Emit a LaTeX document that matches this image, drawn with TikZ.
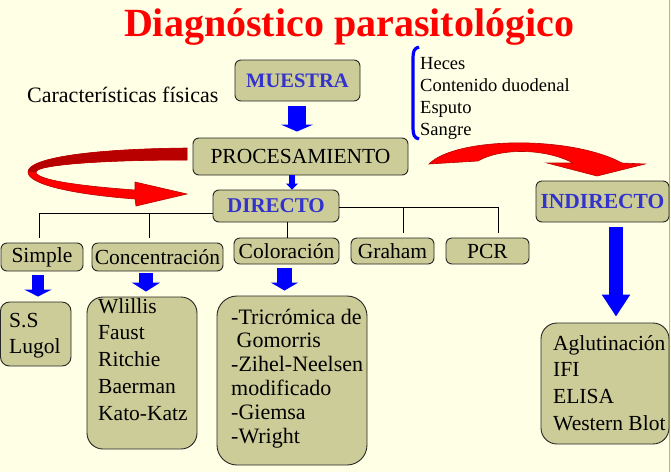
\documentclass[tikz,border=0pt]{standalone}
\usepackage{fontspec}
\setmainfont{Liberation Serif}
\usetikzlibrary{arrows.meta,calc}
\definecolor{bg}{RGB}{255,255,229}
\definecolor{boxc}{RGB}{204,204,153}
\definecolor{tblue}{RGB}{51,51,204}
\definecolor{dred}{RGB}{185,0,0}
\begin{document}
\begin{tikzpicture}[x=1pt,y=-1pt,
  box/.style={draw=black!85, line width=0.9pt, fill=boxc, rounded corners=6pt, inner sep=0pt, font=\fontsize{21.5}{24}\selectfont},
  hd/.style={font=\fontsize{21}{24}\selectfont\bfseries, text=tblue},
  lst/.style={font=\fontsize{21.5}{24}\selectfont, inner sep=0pt, anchor=base west},
  tree/.style={line width=0.9pt, draw=black},
  barrow/.style n args={3}{draw=blue, line width=#1, -{Triangle[length=#2,width=#3]}},
  redarrow/.style={fill=red, draw=dred, line width=0.6pt}]
\useasboundingbox (0,0) rectangle (671,472);
\fill[bg] (0,0) rectangle (671,472);
\draw[gray!60, line width=1.2pt] (669.5,0) -- (669.5,472);

% title and side texts
\node[font=\fontsize{40}{44}\selectfont\bfseries, text=red, anchor=base, inner sep=0pt] (title) at (349,36) {Diagnóstico parasitológico};
\node[lst, font=\fontsize{22}{24}\selectfont] (caract) at (27,102) {Características físicas};

% main boxes
\node[box, hd, font=\fontsize{20.5}{24}\selectfont\bfseries, minimum width=125pt, minimum height=41pt] (muestra) at (297.5,80.5) {MUESTRA};
\node[box, font=\fontsize{21.5}{24}\selectfont, minimum width=215pt, minimum height=37pt] (proc) at (300.5,156.5) {PROCESAMIENTO};
\node[box, hd, minimum width=126pt, minimum height=32pt] (dir) at (276,206) {DIRECTO};
\node[box, hd, font=\fontsize{21.5}{24}\selectfont\bfseries, minimum width=133pt, minimum height=41pt] (indir) at (602.5,201.5) {INDIRECTO};

% second row
\node[box, minimum width=82pt, minimum height=28pt] (simple) at (42,257) {Simple};
\node[box, minimum width=131pt, minimum height=28pt] (conc) at (157.5,257) {Concentración};
\node[box, minimum width=105pt, minimum height=26pt] (col) at (286.5,251) {Coloración};
\node[box, minimum width=83pt, minimum height=26pt] (graham) at (392.5,251) {Graham};
\node[box, minimum width=83pt, minimum height=26pt] (pcr) at (487.5,251) {PCR};

% list boxes
\node[box, rounded corners=9pt, minimum width=70.5pt, minimum height=64pt] (ssbox) at (35.75,334) {};
\node[box, rounded corners=16pt, minimum width=110pt, minimum height=152pt] (clist) at (142,373) {};
\node[box, rounded corners=20pt, minimum width=150pt, minimum height=169pt] (collist) at (292,380.5) {};
\node[box, rounded corners=16pt, minimum width=128pt, minimum height=121pt] (ilist) at (605,383.5) {};

\foreach \t [count=\i] in {S.S, Lugol}
  \node[lst] (sst\i) at (9,{327+26*(\i-1)}) {\t};
\foreach \t [count=\i] in {Wlillis, Faust, Ritchie, Baerman, Kato-Katz}
  \node[lst] (ct\i) at (98,{313+26.75*(\i-1)}) {\t};
\foreach \t [count=\i] in {-Tricrómica de, \ Gomorris, -Zihel-Neelsen, modificado, -Giemsa, -Wright}
  \node[lst, font=\fontsize{22}{24}\selectfont] (colt\i) at (231,{324+23.8*(\i-1)}) {\t};
\foreach \t [count=\i] in {Aglutinación, IFI, ELISA, Western Blot}
  \node[lst] (it\i) at (553,{350+26.7*(\i-1)}) {\t};
\foreach \t [count=\i] in {Heces, Contenido duodenal, Esputo, Sangre}
  \node[lst, font=\fontsize{18.5}{22}\selectfont] (mt\i) at (420,{69+22*(\i-1)}) {\t};

% blue bracket
\draw[blue, line width=3.2pt] (419,47) .. controls (414,48) and (413,52) .. (413,58) -- (413,128) .. controls (413,134) and (414,138) .. (419,139);

% tree connectors
\coordinate (jl) at (213,213);
\coordinate (s1) at (39,238);
\coordinate (s2) at (149,238);
\coordinate (jr) at (339,207);
\coordinate (s4) at (403,233);
\coordinate (s5) at (498,233);
\coordinate (s3) at (287,238);
\draw[tree] (jl) -| (s1);
\draw[tree] (jl -| s2) -- (s2);
\draw[tree] (jr) -| (s5);
\draw[tree] (jr -| s4) -- (s4);
\draw[tree] (s3 |- dir.south) -- (s3);

% blue block arrows
\coordinate (a1) at (297,0);
\coordinate (a2) at (292,0);
\coordinate (a3) at (38,0);
\coordinate (a4) at (146,0);
\coordinate (a5) at (284.5,0);
\coordinate (a6) at (616,0);
\draw[barrow={18pt}{7pt}{32pt}] ($(muestra.south -| a1)+(0,5)$) -- ($(proc.north -| a1)+(0,-6)$);
\draw[barrow={6pt}{6pt}{12pt}] (proc.south -| a2) -- (dir.north -| a2);
\draw[barrow={12pt}{7pt}{27pt}] ($(simple.south -| a3)+(0,4)$) -- ($(ssbox.north -| a3)+(0,-5)$);
\draw[barrow={14pt}{9pt}{28pt}] ($(conc.south -| a4)+(0,2)$) -- ($(clist.north -| a4)+(0,-5)$);
\draw[barrow={15pt}{8pt}{27pt}] ($(col.south -| a5)+(0,4)$) -- ($(collist.north -| a5)+(0,-5)$);
\draw[barrow={14pt}{22pt}{27pt}] ($(indir.south -| a6)+(0,5)$) -- ($(ilist.north -| a6)+(0,-6)$);

% left red curved arrow
\path[redarrow] (187,148) .. controls (90,149) and (28,158) .. (28,172)
  .. controls (28,184) and (70,194) .. (135,199)
  -- (136,206) -- (187,194) -- (135,182) -- (135,190)
  .. controls (80,186) and (36,180) .. (36,172)
  .. controls (36,165) and (100,160) .. (187,160) -- cycle;
\fill[dred] (187,148) .. controls (90,149) and (28,158) .. (28,172)
  -- (36,172) .. controls (36,165) and (100,160) .. (187,160) -- cycle;

% right red curved arrow
\path[redarrow] (429,164) .. controls (455,137) and (570,135) .. (622,163)
  -- (645,164) -- (597,176) -- (547,163) -- (573,163)
  .. controls (545,148) and (500,148) .. (478,161) -- cycle;
\end{tikzpicture}
\end{document}
